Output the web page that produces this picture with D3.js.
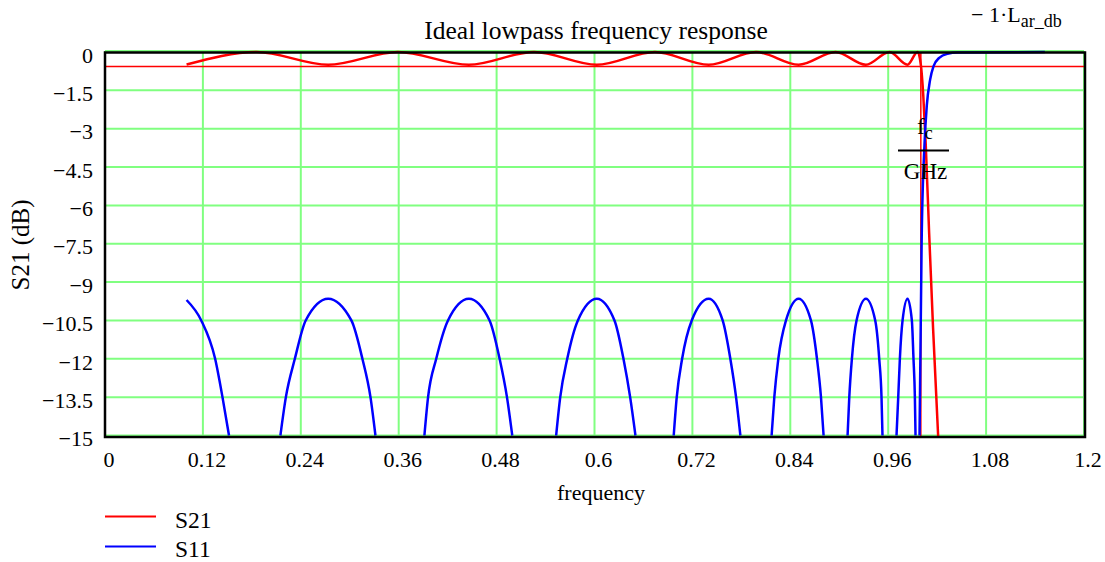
<!DOCTYPE html>
<html>
<head>
<meta charset="utf-8">
<script src="https://cdn.jsdelivr.net/npm/d3@7"></script>
<style>
  body { margin: 0; background: #fff; }
</style>
</head>
<body>
<div id="chart"></div>
<script>
// tick labels
const freqTicks = [0, 0.12, 0.24, 0.36, 0.48, 0.6, 0.72, 0.84, 0.96, 1.08, 1.2]
const dbTicks = [0, -1.5, -3, -4.5, -6, -7.5, -9, -10.5, -12, -13.5, -15]

// S21
const s21Freq = [0.1, 0.186, 0.2735, 0.359, 0.446, 0.526, 0.6028, 0.674, 0.740, 0.798, 0.8502,
  0.8955, 0.9327, 0.9616, 0.9837, 0.996, 1.0, 1.003, 1.006, 1.0102, 1.015, 1.0212, 1.03]
const s21Db = [-0.49, 0, -0.5, 0, -0.5, 0, -0.5, 0, -0.5, 0, -0.5,
  0, -0.5, 0, -0.5, 0, -0.5, -1.7, -3.6, -7.1, -10.8, -15, -19]

// S11, null = gap where the curve is below the plot
const s11Freq = [
  0.1, 0.118, 0.135, 0.144, 0.152, null,
  0.215, 0.2217, 0.2327, 0.246, 0.2735, 0.302, 0.3155, 0.3254, 0.3315, null,
  0.3915, 0.396, 0.406, 0.4204, 0.446, 0.4714, 0.4837, 0.4927, 0.4992, null,
  0.553, 0.558, 0.5666, 0.5796, 0.6028, 0.6245, 0.6355, 0.6437, 0.6502, null,
  0.6971, 0.7008, 0.7074, 0.7192, 0.740, 0.7571, 0.7665, 0.7735, 0.7788, null,
  0.8171, 0.8204, 0.8253, 0.8347, 0.8502, 0.8653, 0.8727, 0.8776, 0.8808, null,
  0.9102, 0.9123, 0.9155, 0.9212, 0.9327, 0.9441, 0.949, 0.9518, 0.953, null,
  0.9702, 0.9723, 0.9743, 0.9776, 0.9837, 0.989, 0.991, 0.9927, 0.9935, null,
  0.9984, 1.001, 1.0045, 1.0073, 1.0114, 1.0155, 1.0225, 1.0327, 1.045, 1.152]
const s11Db = [
  -9.7, -10.5, -12, -13.5, -15, null,
  -15, -13.5, -12, -10.5, -9.65, -10.5, -12, -13.5, -15, null,
  -15, -13.5, -12, -10.5, -9.65, -10.5, -12, -13.5, -15, null,
  -15, -13.5, -12, -10.5, -9.65, -10.5, -12, -13.5, -15, null,
  -15, -13.5, -12, -10.5, -9.65, -10.5, -12, -13.5, -15, null,
  -15, -13.5, -12, -10.5, -9.65, -10.5, -12, -13.5, -15, null,
  -15, -13.5, -12, -10.5, -9.65, -10.5, -12, -13.5, -15, null,
  -15, -13.5, -12, -10.5, -9.65, -10.5, -12, -13.5, -15, null,
  -15, -7.4, -3.6, -2.1, -1.08, -0.56, -0.23, -0.07, -0.02, 0]

// markers
const fcMarker = 1.0
const larMarker = -0.57

const width = 1105, height = 562
margin = ({ top: 52, right: 21, bottom: 126.5, left: 105 })

x = d3.scaleLinear()
  .domain([0, 1.2])
  .range([margin.left, width - margin.right])

y = d3.scaleLinear()
  .domain([-15, 0])
  .range([height - margin.bottom, margin.top])

const fmt = v => (v < 0 ? "\u2212" : "") + Math.abs(v)

const svg = d3.create("svg")
  .attr("width", width)
  .attr("height", height)
  .attr("viewBox", [0, 0, width, height])
  .attr("font-family", "'Liberation Serif', 'DejaVu Serif', 'Times New Roman', serif")

svg.append("defs").append("clipPath")
  .attr("id", "plotclip")
  .append("rect")
  .attr("x", margin.left)
  .attr("y", margin.top - 2)
  .attr("width", width - margin.right - margin.left + 2)
  .attr("height", height - margin.bottom - margin.top + 3)

// grid
const grid = svg.append("g").attr("stroke", "#80ff80").attr("stroke-width", 2)
grid.selectAll("line.v")
  .data(freqTicks)
  .join("line")
  .attr("class", "v")
  .attr("x1", d => x(d)).attr("x2", d => x(d))
  .attr("y1", y(0) - 1).attr("y2", y(-15))
grid.selectAll("line.h")
  .data(dbTicks)
  .join("line")
  .attr("class", "h")
  .attr("y1", d => y(d) - (d === 0 ? 1 : 0)).attr("y2", d => y(d) - (d === 0 ? 1 : 0))
  .attr("x1", x(0)).attr("x2", x(1.2))

// marker lines
svg.append("line")
  .attr("stroke", "#ff0000").attr("stroke-width", 1.5)
  .attr("x1", x(0)).attr("x2", x(1.2) + 2)
  .attr("y1", y(larMarker)).attr("y2", y(larMarker))
svg.append("line")
  .attr("stroke", "#ff0000").attr("stroke-width", 1.5)
  .attr("x1", x(fcMarker)).attr("x2", x(fcMarker))
  .attr("y1", y(0)).attr("y2", y(-15) + 1)

// curves
const line = d3.line()
  .defined(d => d[0] != null)
  .x(d => x(d[0]))
  .y(d => y(d[1]))
  .curve(d3.curveMonotoneX)

const curves = svg.append("g").attr("clip-path", "url(#plotclip)").attr("fill", "none")
curves.append("path")
  .datum(s21Freq.map((f, i) => [f, s21Db[i]]))
  .attr("stroke", "#ff0000").attr("stroke-width", 2.5)
  .attr("d", line)
curves.append("path")
  .datum(s11Freq.map((f, i) => [f, s11Db[i]]))
  .attr("stroke", "#0000ff").attr("stroke-width", 2.5)
  .attr("d", line)

// frame
svg.append("rect")
  .attr("x", x(0)).attr("y", y(0) + 0.5)
  .attr("width", x(1.2) - x(0) + 1)
  .attr("height", y(-15) - y(0) + 1)
  .attr("fill", "none").attr("stroke", "#000").attr("stroke-width", 2.5)

// tick labels
svg.append("g")
  .attr("font-size", 22).attr("text-anchor", "end")
  .selectAll("text")
  .data(dbTicks)
  .join("text")
  .attr("x", 93)
  .attr("y", d => y(d) + 3)
  .attr("dy", "0.35em")
  .text(fmt)

svg.append("g")
  .attr("font-size", 22).attr("text-anchor", "middle")
  .selectAll("text")
  .data(freqTicks)
  .join("text")
  .attr("x", d => x(d) + 4)
  .attr("y", 467)
  .text(fmt)

// titles
svg.append("text")
  .attr("x", 596).attr("y", 39)
  .attr("font-size", 25.5).attr("text-anchor", "middle")
  .text("Ideal lowpass frequency response")

svg.append("text")
  .attr("x", 601).attr("y", 500)
  .attr("font-size", 22).attr("text-anchor", "middle")
  .text("frequency")

svg.append("text")
  .attr("transform", "translate(29,245) rotate(-90)")
  .attr("font-size", 25).attr("text-anchor", "middle")
  .text("S21 (dB)")

// marker labels
const lar = svg.append("text")
  .attr("x", 971).attr("y", 22)
  .attr("font-size", 22)
lar.append("tspan").text("\u2212 1\u00b7L")
lar.append("tspan").attr("font-size", 18).attr("dy", 5).text("ar_db")

const fc = svg.append("text")
  .attr("x", 917).attr("y", 134)
  .attr("font-size", 23)
fc.append("tspan").text("f")
fc.append("tspan").attr("font-size", 18).attr("dy", 5).text("c")
svg.append("line")
  .attr("x1", 898).attr("x2", 949)
  .attr("y1", 150.5).attr("y2", 150.5)
  .attr("stroke", "#000").attr("stroke-width", 2)
svg.append("text")
  .attr("x", 925.5).attr("y", 179)
  .attr("font-size", 23).attr("text-anchor", "middle")
  .text("GHz")

// legend
const legendKeys = ["S21", "S11"]
const legendColors = ["#ff0000", "#0000ff"]
const legend = svg.append("g")
legend.selectAll("line")
  .data(legendKeys)
  .join("line")
  .attr("x1", 105).attr("x2", 156)
  .attr("y1", (d, i) => 516.5 + i * 30).attr("y2", (d, i) => 516.5 + i * 30)
  .attr("stroke", (d, i) => legendColors[i]).attr("stroke-width", 2)
legend.selectAll("text")
  .data(legendKeys)
  .join("text")
  .attr("x", 175)
  .attr("y", (d, i) => 528 + i * 29)
  .attr("font-size", 23.5)
  .text(d => d)

d3.select("#chart").node().append(svg.node())
</script>
</body>
</html>
